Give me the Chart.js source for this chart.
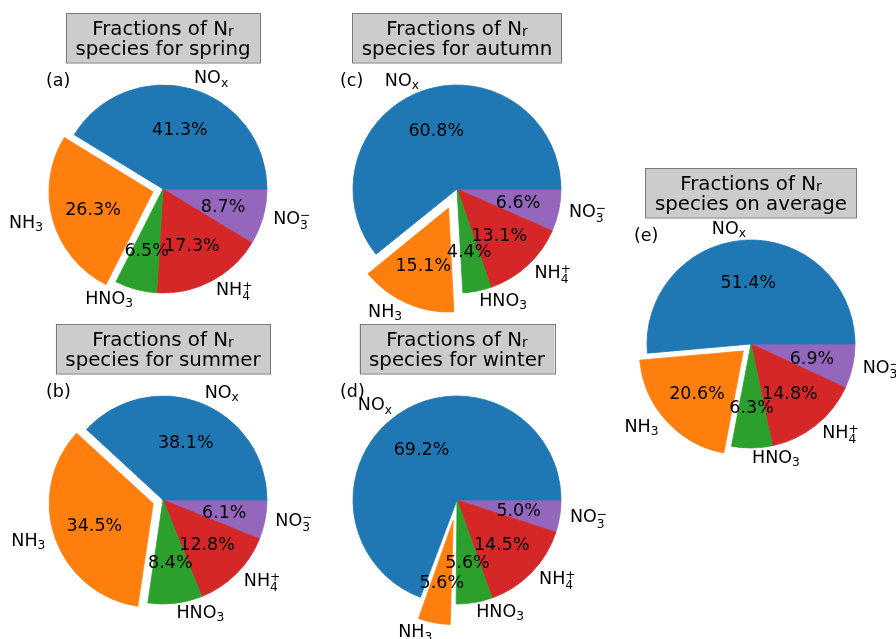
<!DOCTYPE html>
<html>
<head>
<meta charset="utf-8">
<script src="https://cdn.jsdelivr.net/npm/chart.js@4"></script>
<style>
  html, body { margin: 0; padding: 0; background: #ffffff; overflow: hidden; }
  body { width: 896px; height: 639px; position: relative; }
  canvas { position: absolute; }
</style>
</head>
<body>
<script>
// ---------------- data ----------------
const speciesNames = ['NOx', 'NH3', 'HNO3', 'NH4+', 'NO3-'];
const speciesLabels = [
  { main: 'NO',  sub: 'x' },
  { main: 'NH',  sub: '3' },
  { main: 'HNO', sub: '3' },
  { main: 'NH',  sub: '4', sup: '+' },
  { main: 'NO',  sub: '3', sup: '\u2212' }
];
const springValues  = [41.3, 26.3, 6.5, 17.3, 8.7];
const summerValues  = [38.1, 34.5, 8.4, 12.8, 6.1];
const autumnValues  = [60.8, 15.1, 4.4, 13.1, 6.6];
const winterValues  = [69.2, 5.6, 5.6, 14.5, 5.0];
const averageValues = [51.4, 20.6, 6.3, 14.8, 6.9];
const springExplode  = [0, 0.1, 0, 0, 0];
const summerExplode  = [0, 0.1, 0, 0, 0];
const autumnExplode  = [0, 0.2, 0, 0, 0];
const winterExplode  = [0, 0.2, 0, 0, 0];
const averageExplode = [0, 0.1, 0, 0, 0];
const sliceColors = ['#1f77b4', '#ff7f0e', '#2ca02c', '#d62728', '#9467bd'];
const titleSuffixes = ['for spring', 'for summer', 'for autumn', 'for winter', 'on average'];
const panelLetters = ['(a)', '(b)', '(c)', '(d)', '(e)'];

// ---------------- layout ----------------
const R = 104;
const FS = 17.5;
const TFS = 19.8;
const FONT = '"DejaVu Sans", sans-serif';
const CW = 360, CH = 420;
const panels = [
  { values: springValues,  explode: springExplode,  cx: 163, cy: 189 },
  { values: summerValues,  explode: summerExplode,  cx: 163, cy: 500 },
  { values: autumnValues,  explode: autumnExplode,  cx: 457, cy: 189 },
  { values: winterValues,  explode: winterExplode,  cx: 457, cy: 500 },
  { values: averageValues, explode: averageExplode, cx: 751, cy: 344 }
];

function drawRich(ctx, lab, x, y, align, fs, subDrop, baseShift) {
  ctx.font = fs + 'px ' + FONT;
  const wMain = ctx.measureText(lab.main).width;
  const sfs = fs * 0.7;
  ctx.font = sfs + 'px ' + FONT;
  const wSub = lab.sub ? ctx.measureText(lab.sub).width : 0;
  const wSup = lab.sup ? ctx.measureText(lab.sup).width : 0;
  const w = wMain + Math.max(wSub, wSup);
  const x0 = align === 'left' ? x : (align === 'right' ? x - w : x - w / 2);
  const base = y + baseShift;
  ctx.textAlign = 'left';
  ctx.textBaseline = 'alphabetic';
  ctx.fillStyle = '#000';
  ctx.font = fs + 'px ' + FONT;
  ctx.fillText(lab.main, x0, base);
  ctx.font = sfs + 'px ' + FONT;
  if (lab.sub) ctx.fillText(lab.sub, x0 + wMain, base + (lab.sup ? 0.29 * fs : subDrop));
  if (lab.sup) ctx.fillText(lab.sup, x0 + wMain, base - 0.28 * fs);
  return w;
}

function measureRich(ctx, lab, fs) {
  ctx.font = fs + 'px ' + FONT;
  const wMain = ctx.measureText(lab.main).width;
  ctx.font = (fs * 0.7) + 'px ' + FONT;
  const wSub = lab.sub ? ctx.measureText(lab.sub).width : 0;
  return wMain + wSub;
}

const piePlugin = {
  id: 'piePlugin',
  beforeDatasetsDraw(chart) {
    // keep the exploded wedge at the same radius as the others
    const meta = chart.getDatasetMeta(0);
    meta.data.forEach((arc) => {
      const off = (arc.options.offset || 0) / 4;
      if (off > 0) {
        const fix = 1 - Math.sin(Math.min(Math.PI, arc.circumference || 0));
        arc.outerRadius = meta.controller.outerRadius - off * fix;
      }
    });
  },
  afterDatasetsDraw(chart, args, opts) {
    const ctx = chart.ctx;
    const meta = chart.getDatasetMeta(0);
    const rOuter = meta.controller.outerRadius;
    const n = meta.data.length;
    ctx.save();
    meta.data.forEach((arc, j) => {
      const i = n - 1 - j; // original (matplotlib) order
      const mid = (arc.startAngle + arc.endAngle) / 2;
      const off = (arc.options.offset || 0) / 4;
      const c = Math.cos(mid), s = Math.sin(mid);
      // percentage text
      const pr = 0.6 * rOuter + off;
      ctx.font = FS + 'px ' + FONT;
      ctx.textAlign = 'center';
      ctx.textBaseline = 'alphabetic';
      ctx.fillStyle = '#000';
      const val = chart.data.datasets[0].data[j];
      ctx.fillText(val.toFixed(1) + '%', arc.x + c * pr, arc.y + s * pr + 0.36 * FS);
      // species label
      const lr = 1.1 * rOuter + off;
      drawRich(ctx, speciesLabels[i], arc.x + c * lr, arc.y + s * lr, c > 0 ? 'left' : 'right', FS, 0.18 * FS, 0.26 * FS);
    });
    // title box
    const cx = (chart.chartArea.left + chart.chartArea.right) / 2;
    const cy = (chart.chartArea.top + chart.chartArea.bottom) / 2;
    const l1 = { main: 'Fractions of N', sub: 'r' };
    const l2 = { main: 'species ' + opts.suffix };
    const w = Math.max(measureRich(ctx, l1, TFS), measureRich(ctx, l2, TFS)) + 19;
    ctx.fillStyle = '#cccccc';
    ctx.strokeStyle = '#7a7a7a';
    ctx.lineWidth = 1;
    ctx.fillRect(cx - w / 2, cy - 176, w, 49.5);
    ctx.strokeRect(Math.round(cx - w / 2) + 0.5, cy - 176 + 0.5, Math.round(w), 49.5);
    drawRich(ctx, l1, cx, cy - 154.5, 'center', TFS, 0.06 * TFS, 0);
    drawRich(ctx, l2, cx, cy - 134.5, 'center', TFS, 0, 0);
    // panel letter
    ctx.font = FS + 'px ' + FONT;
    ctx.textAlign = 'left';
    ctx.textBaseline = 'middle';
    ctx.fillStyle = '#000';
    ctx.fillText(opts.letter, cx - 117, cy - 108);
    ctx.restore();
  }
};

panels.forEach((p, k) => {
  const cv = document.createElement('canvas');
  cv.width = CW; cv.height = CH;
  cv.style.width = CW + 'px'; cv.style.height = CH + 'px';
  cv.style.left = (p.cx - CW / 2) + 'px';
  cv.style.top = (p.cy - CH / 2) + 'px';
  document.body.appendChild(cv);
  // Chart.js draws clockwise, matplotlib counter-clockwise: reverse the order
  const data = p.values.slice().reverse();
  const colors = sliceColors.slice().reverse();
  const offsets = p.explode.slice().reverse().map(f => f * R * 4);
  new Chart(cv, {
    type: 'pie',
    data: {
      labels: speciesNames.slice().reverse(),
      datasets: [{
        data: data,
        backgroundColor: colors,
        borderColor: colors,
        borderWidth: 0.8,
        offset: offsets,
        hoverOffset: 0
      }]
    },
    options: {
      responsive: false,
      animation: false,
      events: [],
      radius: R,
      rotation: 90,
      layout: { padding: 0 },
      plugins: {
        legend: { display: false },
        tooltip: { enabled: false },
        title: { display: false },
        piePlugin: { suffix: titleSuffixes[k], letter: panelLetters[k] }
      }
    },
    plugins: [piePlugin]
  });
});
</script>
</body>
</html>
